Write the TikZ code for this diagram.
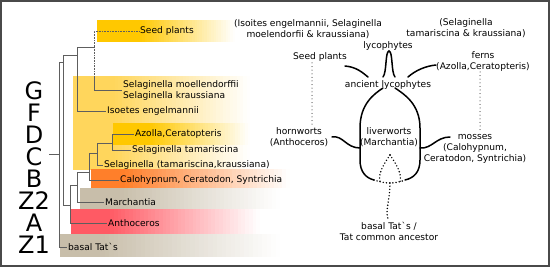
\documentclass[tikz,border=0pt]{standalone}
\usepackage{fontspec}
\setmainfont{DejaVu Sans}
\usepackage{tikz}
\definecolor{BandGold}{HTML}{FFC800}
\definecolor{BandLight}{HTML}{FFD65C}
\definecolor{BandOrange}{HTML}{FF7F2A}
\definecolor{BandBeige}{HTML}{C8BEAA}
\definecolor{BandRed}{HTML}{FF5A64}
\definecolor{TreeLine}{HTML}{5E5E5E}
\definecolor{FrameLine}{HTML}{4A4A4A}
\newcommand{\tatgrave}{\textasciigrave}

\begin{document}
\begin{tikzpicture}[x=1pt,y=-1pt,
    taxon/.style={anchor=west,inner sep=1pt,align=left,font=\fontsize{9.1}{11}\selectfont},
    clade/.style={inner sep=0pt,align=center,font=\fontsize{9.1}{11}\selectfont},
    grade/.style={inner sep=0pt,font=\fontsize{24}{24}\selectfont},
    twig/.style={draw=TreeLine,line width=0.6pt},
    limb/.style={line width=1.5pt,line cap=round},
    trail/.style={line width=1.6pt,line cap=round,dash pattern=on 0pt off 3.2pt},
    faint/.style={line width=1pt,line cap=round,dash pattern=on 0pt off 3.6pt}]
    \useasboundingbox (0,0) rectangle (550,267);
    \foreach \xa/\ya/\xs/\xb/\yb/\col in {
      73/76/115/250/170/BandLight,
      97/20/140/235/42/BandGold,
      113/123/150/250/145/BandGold,
      91/169/125/290/188/BandOrange,
      80/188/120/280/209/BandBeige,
      71/209/110/260/234/BandRed,
      60/234/100/280/257/BandBeige} {
      \fill[\col] (\xa,\ya) rectangle (\xs+1,\yb);
      \foreach \k in {0,...,39} {
        \pgfmathsetmacro\xl{\xs+(\xb-\xs)*\k/40}
        \pgfmathsetmacro\xr{\xs+(\xb-\xs)*(\k+1)/40+0.4}
        \pgfmathtruncatemacro\pc{100-100*(\k+0.5)/40}
        \fill[\col!\pc!white] (\xl,\ya) rectangle (\xr,\yb);
      }
    }
    \foreach \lab/\y in {G/91,F/113,D/135,C/157,B/179,Z2/201,A/223,Z1/245}
      \node[grade] (grade\lab) at (34,\y) {\lab};

    % tree
    \node[taxon] (seed) at (139,31) {Seed plants};
    \node[taxon] (selmk) at (122,90) {Selaginella moellendorffii\\Selaginella kraussiana};
    \node[taxon] (iso) at (106,111) {Isoetes engelmannii};
    \node[taxon] (azo) at (134,134) {Azolla,Ceratopteris};
    \node[taxon] (seltam) at (131,150) {Selaginella tamariscina};
    \node[taxon] (seltk) at (103,165) {Selaginella (tamariscina,kraussiana)};
    \node[taxon] (calo) at (119,180) {Calohypnum, Ceratodon, Syntrichia};
    \node[taxon] (march) at (104,202) {Marchantia};
    \node[taxon] (antho) at (107,223) {Anthoceros};
    \node[taxon] (basal) at (67,247) {basal Tat\tatgrave s};
    \coordinate (nSeed) at (94,47);
    \coordinate (sFade) at (94,76);
    \coordinate (nTrach) at (77,55);
    \coordinate (nLand) at (63,62);
    \coordinate (nHorn) at (70,205);
    \coordinate (nLiver) at (77,185);
    \coordinate (nMoss) at (89,172);
    \coordinate (nSelT) at (97,153);
    \coordinate (nFern) at (112,143);
    \coordinate (nRoot) at (59,154);
    \coordinate (rootStub) at (49,154);
    \draw[twig,densely dotted] (nSeed) |- (seed.west);
    \draw[twig,densely dotted] (nSeed) -- (sFade);
    \draw[twig] (sFade) |- (selmk.west);
    \draw[twig] (nSeed) -| (nTrach);
    \draw[twig] (nTrach) |- (iso.west);
    \draw[twig] (nTrach) -| (nLand);
    \draw[twig] (nLand) |- (nHorn);
    \draw[twig] (nHorn) |- (antho.west);
    \draw[twig] (nHorn) |- (nLiver);
    \draw[twig] (nLiver) |- (march.west);
    \draw[twig] (nLiver) |- (nMoss);
    \draw[twig] (nMoss) |- (calo.west);
    \draw[twig] (nMoss) |- (nSelT);
    \draw[twig] (nSelT) |- (seltk.west);
    \draw[twig] (nSelT) |- (nFern);
    \draw[twig] (nFern) |- (azo.west);
    \draw[twig] (nFern) |- (seltam.west);
    \draw[twig] (rootStub) -- (nRoot);
    \draw[twig] (nRoot) |- (nLand);
    \draw[twig] (nRoot) |- (basal.west);

    % scheme
    \node[clade] (isoR) at (308,29) {(Isoites engelmannii, Selaginella\\moelendorfii \& kraussiana)};
    \node[clade] (tamR) at (466,28) {(Selaginella\\tamariscina \& kraussiana)};
    \node[clade] (lyco) at (388,46) {lycophytes};
    \node[clade] (seedR) at (320,57) {Seed plants};
    \node[clade] (ferns) at (483,61) {ferns\\(Azolla,Ceratopteris)};
    \node[clade] (anc) at (388,85) {ancient lycophytes};
    \node[clade] (horn) at (299,137) {hornworts\\(Anthoceros)};
    \node[clade] (liver) at (389,137) {liverworts\\(Marchantia)};
    \node[clade] (moss) at (475,149) {mosses\\(Calohypnum,\\Ceratodon, Syntrichia)};
    \node[clade] (tat) at (389,231) {basal Tat\tatgrave s /\\Tat common ancestor};
    \coordinate (archL) at (383,77);
    \coordinate (archTop) at (389,51);
    \coordinate (archR) at (395,77);
    \coordinate (seedTip) at (345,66);
    \coordinate (seedFoot) at (368,77);
    \coordinate (fernFoot) at (408,77);
    \coordinate (fernTip) at (436,65);
    \coordinate (neckL) at (383,88);
    \coordinate (neckR) at (395,88);
    \coordinate (baseL) at (374,180);
    \coordinate (baseR) at (405,180);
    \coordinate (baseC) at (390,183);
    \coordinate (hornTip) at (332,137);
    \coordinate (hornFoot) at (360,148);
    \coordinate (mossFoot) at (420,148);
    \coordinate (mossTip) at (450,137);
    \coordinate (forkTop) at (390,155);
    \coordinate (forkL) at (380,182);
    \coordinate (forkR) at (400,182);
    \coordinate (stemEnd) at (388,219);
    \coordinate (seedDrop) at (312,63);
    \coordinate (hornRise) at (312,127);
    \coordinate (fernDrop) at (480,72);
    \coordinate (mossRise) at (480,132);
    \draw[limb] (archL) .. controls (387,72) and (385,52) .. (archTop) .. controls (393,52) and (391,72) .. (archR);
    \draw[limb] (seedTip) .. controls (356,67) and (362,72) .. (seedFoot);
    \draw[limb] (fernFoot) .. controls (416,70) and (426,66) .. (fernTip);
    \draw[limb] (neckL) .. controls (374,94) and (360,104) .. (360,128) -- (360,160) .. controls (360,172) and (366,178) .. (baseL);
    \draw[limb] (neckR) .. controls (404,94) and (420,104) .. (420,128) -- (420,160) .. controls (420,172) and (414,178) .. (baseR);
    \draw[limb] (hornTip) .. controls (343,135) and (346,148) .. (hornFoot);
    \draw[limb] (mossFoot) .. controls (432,149) and (436,137) .. (mossTip);
    \draw[trail] (baseL) .. controls (380,182) and (385,183) .. (baseC) .. controls (395,183) and (400,182) .. (baseR);
    \draw[trail] (forkTop) .. controls (383,165) and (378,174) .. (forkL);
    \draw[trail] (forkTop) .. controls (397,165) and (402,174) .. (forkR);
    \draw[trail] (baseC) .. controls (390,200) and (385,210) .. (stemEnd);
    \draw[faint] (seedDrop) -- (hornRise);
    \draw[faint] (fernDrop) -- (mossRise);

    \draw[FrameLine,line width=1.4pt] (1,1) rectangle (549,266);
  \end{tikzpicture}
\end{document}
